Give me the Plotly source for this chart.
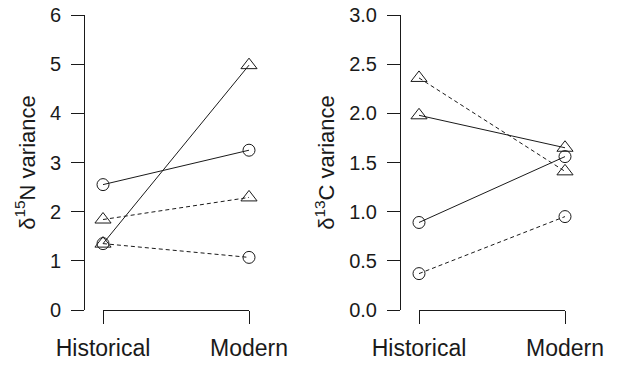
import plotly.graph_objects as go

periods = ["Historical", "Modern"]
xpos = [1, 2]

# delta15N variance
n_circle_solid = [2.55, 3.25]
n_triangle_solid = [1.35, 4.98]
n_triangle_dashed = [1.84, 2.29]
n_circle_dashed = [1.35, 1.07]

# delta13C variance
c_triangle_dashed = [2.36, 1.41]
c_triangle_solid = [1.98, 1.65]
c_circle_solid = [0.89, 1.56]
c_circle_dashed = [0.37, 0.95]

W, H = 617, 365
fig = go.Figure()

INK = "#1a1a1a"

def add(xa, ya, y, symbol, dash):
    fig.add_trace(go.Scatter(
        x=xpos, y=y, xaxis=xa, yaxis=ya, mode="lines+markers",
        line=dict(color=INK, width=1, dash=dash),
        marker=dict(symbol=symbol, size=12 if symbol == "circle-open" else 14,
                    color=INK, line=dict(width=1, color=INK)),
        showlegend=False, cliponaxis=False))

add("x", "y", n_circle_solid, "circle-open", "solid")
add("x", "y", n_triangle_solid, "triangle-up-open", "solid")
add("x", "y", n_triangle_dashed, "triangle-up-open", "4px,3px")
add("x", "y", n_circle_dashed, "circle-open", "4px,3px")

add("x2", "y2", c_triangle_dashed, "triangle-up-open", "4px,3px")
add("x2", "y2", c_triangle_solid, "triangle-up-open", "solid")
add("x2", "y2", c_circle_solid, "circle-open", "solid")
add("x2", "y2", c_circle_dashed, "circle-open", "4px,3px")

ydom = [(H - 310) / H, (H - 15) / H]
xr = [1 - 18 / 146, 2 + 21 / 146]
span = (xr[1] - xr[0]) * 146

def xaxis(dom_left):
    return dict(domain=[dom_left / W, (dom_left + span) / W], range=xr,
                tickvals=xpos, ticktext=periods, ticks="outside", ticklen=13,
                tickcolor=INK, tickwidth=1, showline=False, showgrid=False,
                zeroline=False, automargin=False,
                tickfont=dict(family="Liberation Sans", size=23, color=INK),
                ticklabelstandoff=4)

def yaxis(anchor, rng, dt, fmt, title):
    return dict(domain=ydom, range=rng, anchor=anchor, dtick=dt, tick0=0, tickformat=fmt,
                ticks="outside", ticklen=13, tickcolor=INK, tickwidth=1,
                showline=True, linecolor=INK, linewidth=1, showgrid=False, zeroline=False,
                automargin=False,
                tickfont=dict(family="Liberation Sans", size=20, color=INK),
                ticklabelstandoff=6,
                title=dict(text=title, font=dict(family="Liberation Sans", size=22, color=INK),
                           standoff=8))

fig.update_layout(
    width=W, height=H, margin=dict(l=0, r=0, t=0, b=0),
    paper_bgcolor="white", plot_bgcolor="white",
    xaxis=dict(**xaxis(85), anchor="y"),
    yaxis=yaxis("x", [0, 6], 1, "d", "δ<sup>15</sup>N variance"),
    xaxis2=dict(**xaxis(401), anchor="y2"),
    yaxis2=yaxis("x2", [0, 3], 0.5, ".1f", "δ<sup>13</sup>C variance"),
)

# bracket joining the two x ticks, drawn crisply on the pixel row of the x axis
bracket_y = (H - 310.5) / H
for xa in ("x", "x2"):
    fig.add_shape(type="line", xref=xa, yref="paper", x0=xpos[0], x1=xpos[1],
                  y0=bracket_y, y1=bracket_y,
                  line=dict(color=INK, width=1), layer="above")

fig.write_html("out.html")
